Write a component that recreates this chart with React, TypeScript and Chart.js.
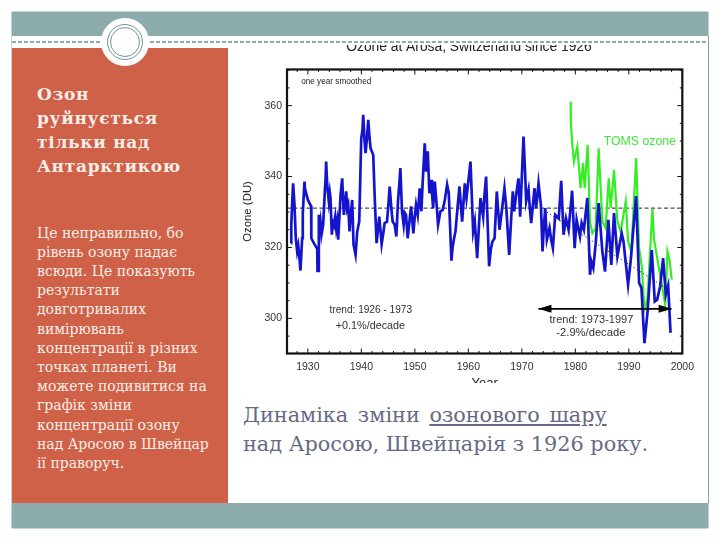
import React, { useEffect, useRef } from "react";
import { Chart, registerables } from "chart.js";

Chart.register(...registerables);

const ozoneYears = [
  1926.87, 1926.9, 1927.1, 1927.24, 1927.5, 1927.74, 1928.0, 1928.2, 1928.37, 1928.62, 1928.93, 1929.05, 1929.37, 1929.5, 1929.62, 1930.0, 1930.62, 1930.65,
  1931.12, 1931.75, 1931.8, 1931.9, 1932.05, 1932.2, 1932.36, 1932.55, 1932.86, 1933.17, 1933.3, 1933.42, 1933.61, 1933.92, 1934.1, 1934.23, 1934.48, 1934.7, 1934.86,
  1935.11, 1935.3, 1935.48, 1935.67, 1936.11, 1936.42, 1936.6, 1936.73, 1937.0, 1937.17, 1937.35, 1937.54, 1937.79, 1938.0, 1938.29, 1938.54, 1938.92, 1939.23, 1939.6, 1939.98,
  1940.2, 1940.35, 1940.6, 1940.79, 1941.05, 1941.29, 1941.5, 1941.72, 1942.22, 1942.5, 1942.85, 1943.1, 1943.35, 1943.6, 1943.79, 1944.1, 1944.35, 1944.8, 1945.1, 1945.29, 1945.6, 1945.85, 1946.23, 1946.54,
  1946.85, 1947.1, 1947.29, 1947.45, 1947.6, 1947.91, 1948.1, 1948.35, 1948.66, 1949.0, 1949.29, 1949.72, 1950.0, 1950.22, 1950.54, 1950.75, 1950.91, 1951.22, 1951.47, 1951.85, 1952.1,
  1952.41, 1952.72, 1953.03, 1953.2, 1953.41, 1953.72, 1954.0, 1954.34, 1954.78, 1955.22, 1955.6, 1956.03, 1956.34, 1956.84, 1957.05, 1957.28, 1957.59, 1958.0, 1958.34,
  1958.84, 1959.34, 1959.65, 1960.1, 1960.4, 1960.9, 1961.21, 1961.65, 1962.27, 1962.77, 1963.0, 1963.32, 1963.6, 1963.88, 1964.2, 1964.51, 1964.9, 1965.32, 1965.6, 1965.82,
  1966.25, 1966.75, 1967.1, 1967.63, 1968.0, 1968.31, 1968.56, 1969.0, 1969.37, 1969.69, 1970.0, 1970.31, 1970.6, 1970.81, 1971.25, 1971.5, 1971.75, 1972.1, 1972.37, 1972.68, 1973.12,
  1973.56, 1973.87, 1974.1, 1974.37, 1974.68, 1975.18, 1975.5, 1975.8, 1976.24, 1976.9, 1977.36, 1977.8, 1978.25, 1978.74, 1979.4, 1979.87, 1980.24,
  1980.87, 1981.18, 1981.6, 1982.24, 1982.74, 1983.0, 1983.36, 1983.8, 1984.36, 1985.05, 1985.55, 1986.17, 1986.73, 1987.23, 1987.86,
  1988.67, 1989.0, 1989.86, 1990.36, 1991.36, 1991.92, 1992.36, 1992.92, 1993.48, 1994.29, 1994.85, 1995.3, 1995.85, 1996.41, 1996.91,
  1997.35, 1997.8,
];
const ozoneValues = [
  321.2, 326.4, 333.5, 338.1, 332.0, 322.6, 318.9, 320.5, 317.9, 313.5, 322.6, 329.7, 338.6, 335.0, 335.6, 333.4, 331.6, 322.6,
  321.2, 319.6, 313.4, 313.4, 329.2, 325.5, 327.3, 323.6, 326.4, 335.8, 339.0, 344.2, 337.7, 333.0, 335.5, 333.9, 323.6, 327.0, 326.4,
  328.7, 325.5, 327.3, 322.2, 334.8, 339.5, 333.0, 329.2, 333.5, 335.8, 331.0, 332.0, 324.5, 329.0, 333.4, 320.8, 317.9, 324.5, 327.3, 350.8,
  353.0, 357.4, 350.0, 346.6, 351.0, 356.0, 351.5, 348.0, 346.1, 334.0, 321.2, 325.0, 328.7, 324.5, 320.9, 324.0, 326.9, 327.3, 333.0, 337.2, 331.1, 327.3, 326.4, 323.1,
  333.0, 338.0, 342.4, 336.0, 330.2, 326.4, 329.8, 329.2, 322.6, 327.5, 331.6, 324.0, 329.0, 332.0, 329.2, 333.5, 336.7, 330.2, 338.6, 349.4, 341.4,
  347.1, 335.3, 339.1, 335.5, 331.1, 338.6, 333.5, 326.4, 330.2, 330.6, 333.4, 337.7, 335.3, 316.3, 320.0, 322.2, 324.5, 331.5, 337.2,
  327.3, 338.1, 333.9, 340.0, 344.2, 324.5, 327.3, 317.0, 333.9, 328.7, 334.5, 340.0, 327.0, 314.7, 319.5, 321.7, 322.6, 335.8, 330.0, 325.0,
  330.2, 336.7, 331.1, 317.9, 328.0, 335.8, 330.2, 335.5, 339.5, 328.7, 340.0, 351.3, 341.5, 333.0, 336.3, 331.0, 326.9, 332.5, 336.7, 331.1, 338.1,
  332.0, 318.9, 325.5, 331.1, 322.2, 325.5, 322.0, 319.8, 329.2, 328.2, 338.8, 323.6, 328.2, 325.0, 336.0, 319.8, 327.8,
  323.1, 326.9, 325.0, 334.0, 312.3, 316.0, 314.2, 321.0, 332.5, 318.9, 313.2, 327.8, 315.1, 329.7, 317.5,
  324.0, 321.7, 309.5, 316.5, 334.5, 310.0, 308.6, 293.0, 301.5, 319.3, 304.8, 305.3, 309.0, 317.0, 306.7,
  309.2, 295.9,
];
const tomsYears = [
  1979.12, 1979.15, 1979.43, 1979.74, 1980.37, 1980.99, 1981.43, 1981.74, 1982.3, 1982.74, 1983.18, 1983.8, 1984.36, 1985.05, 1985.67,
  1986.24, 1986.61, 1987.23, 1987.86, 1988.48, 1989.42, 1989.86, 1990.48, 1991.36, 1991.92, 1992.42, 1992.92, 1993.48, 1994.41, 1994.72,
  1995.47, 1996.1, 1996.8, 1997.22, 1997.6, 1998.03,
];
const tomsValues = [
  361.1, 355.5, 348.9, 344.2, 348.4, 336.7, 343.8, 336.7, 348.9, 327.3, 324.0, 325.4, 348.0, 327.3, 325.4,
  339.5, 331.1, 341.9, 327.3, 324.5, 333.0, 321.7, 318.9, 345.2, 319.8, 314.7, 302.5, 305.3, 330.8, 322.2,
  315.6, 310.0, 303.9, 318.9, 316.5, 310.9,
];
const meanYears = [1926.1, 2000];
const meanValues = [331.1, 331.1];
const trendYears = [1973.5, 1997];
const trendValues = [331.1, 308.5];
const arrowYears = [1973.1, 1998];
const arrowValues = [302.7, 302.7];
const xTickLabels = [1930, 1940, 1950, 1960, 1970, 1980, 1990, 2000];
const yTickLabels = [300, 320, 340, 360];
const xMinorEvery = 2;
const yMinorEvery = 5;

const titleLines = ["Озон", "руйнується", "тільки над", "Антарктикою"];
const bodyLines = [
  "Це неправильно, бо", "рівень озону падає", "всюди. Це показують", "результати", "довготривалих", "вимірювань",
  "концентрації в різних", "точках планеті. Ви", "можете подивитися на", "графік зміни", "концентрації озону",
  "над Аросою в Швейцар", "ії праворуч.",
];

const SANS = '"Liberation Sans", Arial, sans-serif';
const SERIF = '"DejaVu Serif", serif';
const TEAL = "#8CABAB";

const overlay = {
  id: "overlay",
  afterDatasetsDraw(chart: any) {
    const { ctx, chartArea: a, scales } = chart;
    const x = scales.x;
    const y = scales.y;
    ctx.save();
    ctx.strokeStyle = "#111";
    ctx.lineWidth = 1;
    ctx.beginPath();
    for (let v = 1926; v <= 2000; v += xMinorEvery) {
      if (v < x.min) continue;
      const px = x.getPixelForValue(v);
      const len = v % 10 === 0 ? 5 : 2.5;
      ctx.moveTo(px, a.top);
      ctx.lineTo(px, a.top + len);
      ctx.moveTo(px, a.bottom);
      ctx.lineTo(px, a.bottom - len);
    }
    for (let v = 295; v <= 370; v += yMinorEvery) {
      const py = y.getPixelForValue(v);
      const len = v % 20 === 0 ? 5 : 2.5;
      ctx.moveTo(a.left, py);
      ctx.lineTo(a.left + len, py);
      ctx.moveTo(a.right, py);
      ctx.lineTo(a.right - len, py);
    }
    ctx.stroke();
    ctx.lineWidth = 2.2;
    ctx.strokeRect(a.left, a.top, a.right - a.left, a.bottom - a.top);

    const ax0 = x.getPixelForValue(arrowYears[0]);
    const ax1 = x.getPixelForValue(arrowYears[1]);
    const ay = y.getPixelForValue(arrowValues[0]);
    ctx.fillStyle = "#000";
    ctx.beginPath();
    ctx.moveTo(ax0, ay);
    ctx.lineTo(ax0 + 13, ay - 4);
    ctx.lineTo(ax0 + 13, ay + 4);
    ctx.closePath();
    ctx.moveTo(ax1, ay);
    ctx.lineTo(ax1 - 13, ay - 4);
    ctx.lineTo(ax1 - 13, ay + 4);
    ctx.closePath();
    ctx.fill();

    const label = (t: string, yr: number, du: number, size: number, color: string, align: CanvasTextAlign) => {
      ctx.font = `${size}px ${SANS}`;
      ctx.fillStyle = color;
      ctx.textAlign = align;
      ctx.textBaseline = "middle";
      ctx.fillText(t, x.getPixelForValue(yr), y.getPixelForValue(du));
    };
    label("one year smoothed", 1928.75, 366.7, 8.2, "#222", "left");
    label("trend: 1926 - 1973", 1941.76, 302.2, 10.1, "#333", "center");
    label("+0.1%/decade", 1941.7, 297.9, 10.8, "#333", "center");
    label("trend: 1973-1997", 1983, 299.6, 11, "#333", "center");
    label("-2.9%/decade", 1982.9, 295.8, 11.2, "#333", "center");
    label("TOMS ozone", 1985.3, 349.8, 12.3, "#3EE83A", "left");
    ctx.restore();
  },
};

export default function App() {
  const ref = useRef<HTMLCanvasElement | null>(null);
  useEffect(() => {
    const pts = (xs: number[], ys: number[]) => xs.map((v, i) => ({ x: v, y: ys[i] }));
    const chart = new Chart(ref.current as HTMLCanvasElement, {
      type: "line",
      data: {
        datasets: [
          { label: "span", data: pts(arrowYears, arrowValues), borderColor: "#000", borderWidth: 1.8, pointRadius: 0 },
          { label: "trend", data: pts(trendYears, trendValues), borderColor: "#222", borderWidth: 1, borderDash: [1.2, 2.6], pointRadius: 0 },
          { label: "Arosa", data: pts(ozoneYears, ozoneValues), borderColor: "#1414CC", borderWidth: 2.7, pointRadius: 0 },
          { label: "TOMS ozone", data: pts(tomsYears, tomsValues), borderColor: "#33EE22", borderWidth: 2.2, pointRadius: 0 },
          { label: "mean", data: pts(meanYears, meanValues), borderColor: "#222", borderWidth: 1, borderDash: [4, 2.5], pointRadius: 0 },
        ] as any,
      },
      options: {
        animation: false,
        responsive: false,
        layout: { padding: { left: 20, right: 15, top: 0, bottom: 0 } },
        plugins: {
          legend: { display: false },
          tooltip: { enabled: false },
          title: {
            display: true,
            text: "Ozone at Arosa, Switzerland since 1926",
            color: "#222",
            font: { family: SANS, size: 13.8, weight: "normal" },
            padding: { top: 12, bottom: 13.9 },
          },
        },
        scales: {
          x: {
            type: "linear",
            min: 1926.1,
            max: 2000,
            grid: { display: false, drawTicks: false },
            border: { display: false },
            afterBuildTicks: (s: any) => { s.ticks = xTickLabels.map((value) => ({ value })); },
            afterFit: (s: any) => { s.height = 43.5; },
            ticks: {
              autoSkip: false,
              maxRotation: 0,
              padding: 7,
              color: "#333",
              font: { family: SANS, size: 10.5 },
              callback: (v: any) => String(v),
            },
            title: { display: true, text: "Year", color: "#222", font: { family: SANS, size: 13 }, padding: { top: 0, bottom: 6 } },
          },
          y: {
            type: "linear",
            min: 290.1,
            max: 370.2,
            grid: { display: false, drawTicks: false },
            border: { display: false },
            afterBuildTicks: (s: any) => { s.ticks = yTickLabels.map((value) => ({ value })); },
            afterFit: (s: any) => { s.width = 35; },
            ticks: {
              autoSkip: false,
              padding: 5,
              color: "#333",
              font: { family: SANS, size: 10.5 },
              callback: (v: any) => String(v),
            },
            title: { display: true, text: "Ozone (DU)", color: "#222", font: { family: SANS, size: 11.4 }, padding: { top: -11, bottom: 0 } },
          },
        },
      },
      plugins: [overlay],
    } as any);
    return () => chart.destroy();
  }, []);

  const abs = (left: number, top: number, width: number, height: number, extra: React.CSSProperties = {}): React.CSSProperties => ({
    position: "absolute", left, top, width, height, ...extra,
  });

  return (
    <div style={abs(0, 0, 720, 540, { background: "#FDFEFE", overflow: "hidden" })}>
      <div style={abs(12, 12, 696, 516, { background: "#fff", boxShadow: "0 0 0 0.5px #9aa9a9" })} />
      <div style={abs(708, 36, 1, 467, { background: "#8b9aa0" })} />
      <div style={abs(12, 12, 696, 24, { background: TEAL })} />
      <div style={abs(12, 503, 696, 25, { background: TEAL })} />
      <div style={abs(12, 41, 696, 1.5, { background: `repeating-linear-gradient(90deg, ${TEAL} 0 4px, transparent 4px 6px)` })} />
      <div style={abs(12, 48, 216, 455, { background: "#CE6147" })} />
      <div style={abs(101, 18, 48, 48, { background: "#fff", borderRadius: "50%" })} />
      <div style={abs(107, 24, 36, 36, { border: "1.5px solid #6F9495", borderRadius: "50%", boxSizing: "border-box" })} />
      <div style={abs(110, 27, 30, 30, { border: "1.5px solid #6F9495", borderRadius: "50%", boxSizing: "border-box" })} />

      <div style={abs(37, 82, 185, 100, { fontFamily: SERIF, fontWeight: 700, fontSize: 17, lineHeight: "24px", letterSpacing: 0.7, color: "#FBEDE8", whiteSpace: "nowrap" })}>
        {titleLines.map((l) => <div key={l}>{l}</div>)}
      </div>
      <div style={abs(37, 223.5, 190, 260, { fontFamily: SERIF, fontSize: 14, lineHeight: "19.2px", color: "#FBEDE8", whiteSpace: "nowrap" })}>
        {bodyLines.map((l) => <div key={l}>{l}</div>)}
      </div>

      <div style={abs(232, 45, 469, 338, { overflow: "hidden", background: "#fff" })}>
        <canvas ref={ref} width={469} height={370} style={{ position: "absolute", left: 0, top: -18, width: 469, height: 370, filter: "blur(0.35px)" }} />
      </div>

      <div style={abs(243, 401, 460, 60, { fontFamily: SERIF, fontSize: 20.8, lineHeight: "28.5px", color: "#666A85", whiteSpace: "nowrap" })}>
        <div style={{ wordSpacing: 3 }}>Динаміка зміни <span style={{ textDecoration: "underline" }}>озонового шару</span></div>
        <div>над Аросою, Швейцарія з 1926 року.</div>
      </div>
    </div>
  );
}
